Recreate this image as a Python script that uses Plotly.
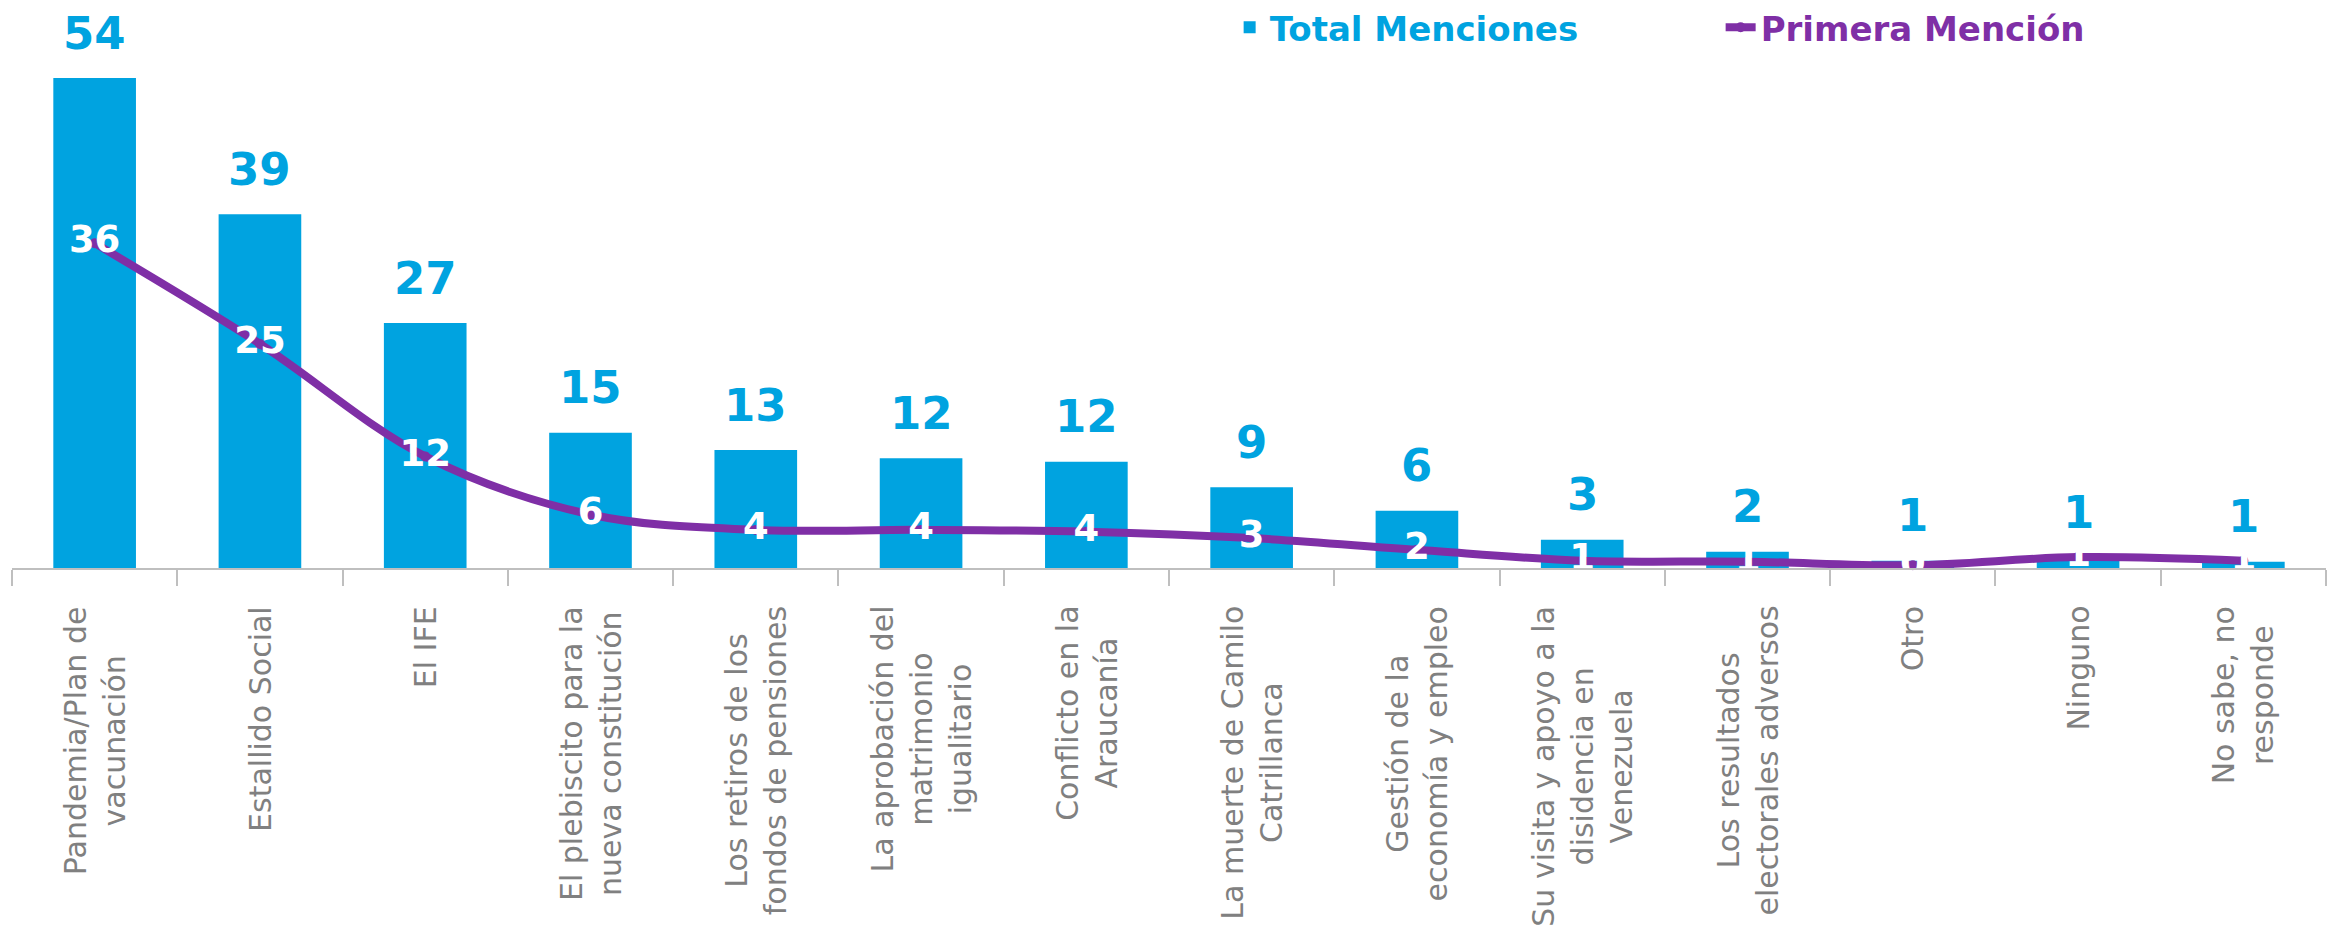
import plotly.graph_objects as go

categories = [
    "Pandemia/Plan de vacunación", "Estallido Social", "El IFE",
    "El plebiscito para la nueva constitución", "Los retiros de los fondos de pensiones",
    "La aprobación del matrimonio igualitario", "Conflicto en la Araucanía",
    "La muerte de Camilo Catrillanca", "Gestión de la economía y empleo",
    "Su visita y apoyo a la disidencia en Venezuela", "Los resultados electorales adversos",
    "Otro", "Ninguno", "No sabe, no responde",
]
tick_labels = [
    "Pandemia/Plan de<br>vacunación", "Estallido Social", "El IFE",
    "El plebiscito para la<br>nueva constitución", "Los retiros de los<br>fondos de pensiones",
    "La aprobación del<br>matrimonio<br>igualitario", "Conflicto en la<br>Araucanía",
    "La muerte de Camilo<br>Catrillanca", "Gestión de la<br>economía y empleo",
    "Su visita y apoyo a la<br>disidencia en<br>Venezuela", "Los resultados<br>electorales adversos",
    "Otro", "Ninguno", "No sabe, no<br>responde",
]
total_menciones = [54, 39, 27, 14.9, 13.0, 12.1, 11.7, 8.9, 6.3, 3.1, 1.8, 0.8, 1.2, 0.7]
primera_mencion = [35.8, 24.7, 12.3, 5.9, 4.2, 4.2, 4.0, 3.3, 2.0, 0.8, 0.7, 0.3, 1.2, 0.8]

BLUE = "#00A3E0"
PURPLE = "#7F2FA6"
GREY = "#808080"

fig = go.Figure()
fig.add_trace(go.Bar(
    x=categories, y=total_menciones,
    name=f"<span style='color:{BLUE}'>Total Menciones</span>",
    marker=dict(color=BLUE, line=dict(width=0)),
))
fig.add_trace(go.Scatter(
    x=categories, y=primera_mencion,
    name=f"<span style='color:{PURPLE}'>Primera Mención</span>",
    mode="lines+markers+text",
    line=dict(color=PURPLE, width=8, shape="spline", smoothing=1),
    marker=dict(color=PURPLE, size=10),
    text=[f"{v:.0f}" for v in primera_mencion],
    textposition="middle center",
    textfont=dict(family="DejaVu Sans", size=37, color="white", weight="bold"),
    cliponaxis=False,
))

annotations = []
for c, v in zip(categories, total_menciones):
    annotations.append(dict(
        x=c, y=v, xref="x", yref="y", text=f"{v:.0f}", showarrow=False,
        xanchor="center", yanchor="middle", yshift=45,
        font=dict(family="DejaVu Sans", size=45, color=BLUE, weight="bold"),
    ))
for c, t in zip(categories, tick_labels):
    annotations.append(dict(
        x=c, y=0, xref="x", yref="paper", text=t, showarrow=False,
        xanchor="center", yanchor="top", yshift=-36, textangle=-90, align="center",
        font=dict(family="DejaVu Sans", size=30, color=GREY),
    ))

fig.update_layout(
    width=2343, height=938,
    margin=dict(l=4, r=25, t=2, b=378, autoexpand=False),
    paper_bgcolor="white", plot_bgcolor="white",
    bargap=0.5,
    showlegend=True,
    legend=dict(
        orientation="h", xref="container", yref="container",
        x=0.5214, xanchor="left", y=0.979, yanchor="middle",
        font=dict(family="DejaVu Sans", size=34, weight="bold"),
        entrywidth=446, entrywidthmode="pixels",
        bgcolor="rgba(0,0,0,0)",
    ),
    annotations=annotations,
    xaxis=dict(
        range=[-0.5, 13.5],
        showticklabels=False, ticks="outside", tickson="boundaries", ticklen=16,
        tickcolor="#BFBFBF", tickwidth=1.5, showline=True, linecolor="#BFBFBF",
        linewidth=2, showgrid=False, zeroline=False,
    ),
    yaxis=dict(range=[0, 61.5], visible=False, showgrid=False, zeroline=False),
)

fig.write_html("out.html")
